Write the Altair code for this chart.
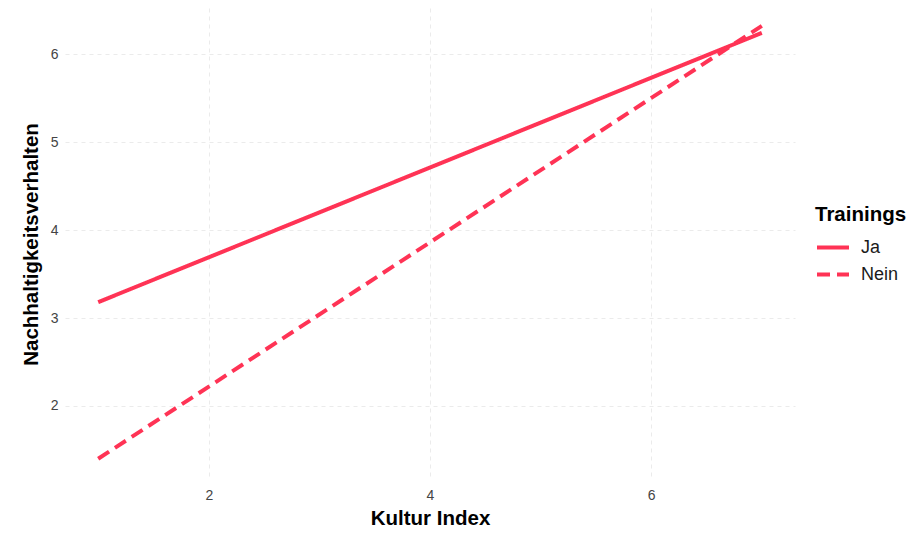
import altair as alt
import pandas as pd

kultur = [1, 7, 1, 7]
verhalten = [3.18, 6.24, 1.40, 6.32]
training = ["Ja", "Ja", "Nein", "Nein"]

df = pd.DataFrame({"Kultur Index": kultur, "Nachhaltigkeitsverhalten": verhalten, "Trainings": training})

FONT = "Liberation Sans"

chart = alt.Chart(df).mark_line(strokeWidth=4, color="#FF3355", strokeCap="butt").encode(
    x=alt.X("Kultur Index:Q",
            scale=alt.Scale(domain=[0.7, 7.3], nice=False, zero=False),
            axis=alt.Axis(values=[2, 4, 6], title="Kultur Index", titleX=365, titleY=28,
                          titleBaseline="top", labelPadding=8)),
    y=alt.Y("Nachhaltigkeitsverhalten:Q",
            scale=alt.Scale(domain=[1.159, 6.523], nice=False, zero=False),
            axis=alt.Axis(values=[2, 3, 4, 5, 6], title="Nachhaltigkeitsverhalten",
                          titleX=-24, titleY=236, labelPadding=7)),
    strokeDash=alt.StrokeDash("Trainings:N",
                              scale=alt.Scale(domain=["Ja", "Nein"], range=[[1, 0], [13, 7]]),
                              legend=alt.Legend(orient="none", legendX=750, legendY=197,
                                                symbolType="stroke", symbolStrokeColor="#FF3355",
                                                symbolStrokeWidth=4, symbolSize=1024,
                                                titleFontSize=20.5, titleFontWeight="bold", titleColor="#000",
                                                titleFont=FONT, labelFont=FONT, labelFontSize=18,
                                                labelColor="#1a1a1a", rowPadding=-5, titlePadding=4,
                                                labelOffset=10)),
    detail="Trainings:N",
).properties(
    width=730, height=472,
    autosize=alt.AutoSizeParams(type="none"),
    padding={"left": 57, "top": 0, "right": 120, "bottom": 62},
).configure_view(strokeWidth=0).configure_axis(
    domain=False, ticks=False,
    grid=True, gridColor="#ebebeb", gridDash=[4, 4], gridWidth=1,
    labelFont=FONT, labelFontSize=14, labelColor="#444444",
    titleFont=FONT, titleFontSize=20.5, titleFontWeight="bold", titleColor="#000",
)

chart.save("out.html", embed_options={"renderer": "svg", "actions": False})
